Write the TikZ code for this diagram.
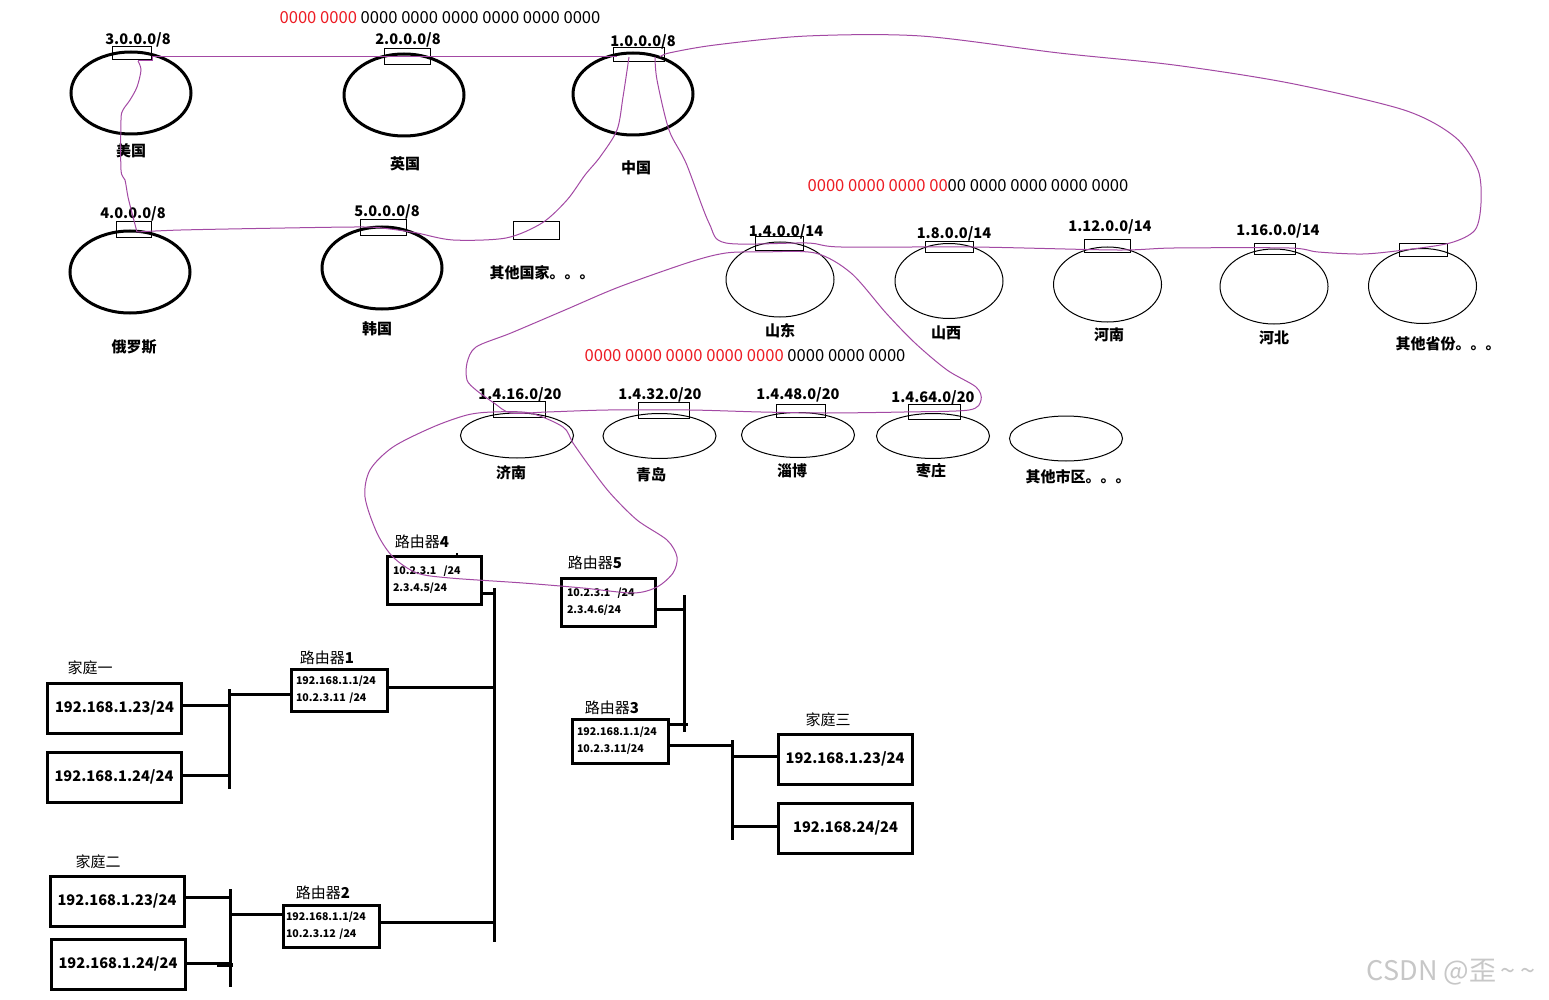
\documentclass[tikz,border=0pt]{standalone}
\usepackage{fontspec}
\setmainfont{Noto Sans CJK SC}
\usetikzlibrary{shapes.geometric}
\definecolor{pur}{RGB}{163,73,164}
\definecolor{pred}{RGB}{237,28,36}
\begin{document}
\begin{tikzpicture}[x=1pt,y=-1pt,
  bigell/.style={ellipse,draw,line width=3pt,minimum width=120pt,minimum height=82pt,inner sep=0pt},
  provell/.style={ellipse,draw,line width=1pt,minimum width=108pt,minimum height=75pt,inner sep=0pt},
  cityell/.style={ellipse,draw,line width=1pt,minimum width=113pt,minimum height=45pt,inner sep=0pt},
  addrbox/.style={rectangle,draw,line width=1pt,inner sep=0pt},
  addr/.style={font=\fontsize{14.6}{15}\selectfont\bfseries,inner sep=0pt},
  cnm/.style={font=\fontsize{15}{15}\selectfont\bfseries,inner sep=0pt},
  zeros/.style={font=\fontsize{16.6}{17}\selectfont,inner sep=0pt},
  router/.style={rectangle,draw,line width=3pt,inner sep=0pt,align=left,text width=#1,font=\fontsize{10.6}{17}\selectfont\bfseries},
  rlabel/.style={font=\fontsize{15}{15}\selectfont,inner sep=0pt},
  hostbox/.style={rectangle,draw,line width=3pt,inner sep=0pt,minimum width=134pt,minimum height=50pt,font=\fontsize{14.6}{15}\selectfont\bfseries},
  bus/.style={line width=3pt},
  pcurve/.style={pur,line width=1pt},
]
\useasboundingbox[fill=white] (0,0) rectangle (1549,1000);

% ---- top level (countries) ----
\node[zeros] (z1) at (440,18) {\textcolor{pred}{0000 0000} 0000 0000 0000 0000 0000 0000};
\node[bigell] (us) at (131,93) {};
\node[bigell] (uk) at (404,95) {};
\node[bigell] (cn) at (633,94) {};
\node[bigell] (ru) at (130,272) {};
\node[bigell] (kr) at (382,268) {};
\node[addrbox,minimum width=39pt,minimum height=13pt] (t3) at (131.5,53.5) {};
\node[addrbox,minimum width=46pt,minimum height=16pt] (t2) at (407,57) {};
\node[addrbox,minimum width=51pt,minimum height=14pt] (t1) at (638.5,55) {};
\node[addrbox,minimum width=35pt,minimum height=16pt] (t4) at (133.5,230) {};
\node[addrbox,minimum width=46pt,minimum height=16pt] (t5) at (383,228) {};
\node[addrbox,minimum width=46pt,minimum height=18pt] (tother) at (536,231) {};
\node[addr] (a3) at (138,40) {3.0.0.0/8};
\node[addr] (a2) at (408,40) {2.0.0.0/8};
\node[addr] (a1) at (643,42) {1.0.0.0/8};
\node[addr] (a4) at (133,214) {4.0.0.0/8};
\node[addr] (a5) at (387,212) {5.0.0.0/8};
\node[cnm] (nus) at (131,151) {美国};
\node[cnm] (nuk) at (405,164) {英国};
\node[cnm] (ncn) at (636,168) {中国};
\node[cnm] (nru) at (134,347) {俄罗斯};
\node[cnm] (nkr) at (377,329) {韩国};
\node[cnm] (nother) at (542,273) {其他国家。。。};

% ---- provinces ----
\node[zeros] (z2) at (968,186) {\textcolor{pred}{0000 0000 0000 00}00 0000 0000 0000 0000};
\node[provell] (sd) at (780,279.5) {};
\node[provell] (sx) at (949,281) {};
\node[provell] (hn) at (1107.5,284.5) {};
\node[provell] (hb) at (1274,286.5) {};
\node[provell] (op) at (1422.5,286) {};
\node[addrbox,minimum width=48pt,minimum height=14pt] (tsd) at (779,244) {};
\node[addrbox,minimum width=48pt,minimum height=11pt] (tsx) at (949,247.5) {};
\node[addrbox,minimum width=46pt,minimum height=13pt] (thn) at (1107,246.5) {};
\node[addrbox,minimum width=41pt,minimum height=11pt] (thb) at (1274.5,249.5) {};
\node[addrbox,minimum width=48pt,minimum height=13pt] (top) at (1423,250.5) {};
\node[addr] (asd) at (786,232) {1.4.0.0/14};
\node[addr] (asx) at (954,234) {1.8.0.0/14};
\node[addr] (ahn) at (1110,227) {1.12.0.0/14};
\node[addr] (ahb) at (1278,231) {1.16.0.0/14};
\node[cnm] (nsd) at (780,331) {山东};
\node[cnm] (nsx) at (946,333) {山西};
\node[cnm] (nhn) at (1109,335) {河南};
\node[cnm] (nhb) at (1274,338) {河北};
\node[cnm] (nop) at (1448,344) {其他省份。。。};

% ---- cities ----
\node[zeros] (z3) at (745,356) {\textcolor{pred}{0000 0000 0000 0000 0000} 0000 0000 0000};
\node[cityell] (jn) at (517,435.5) {};
\node[cityell] (qd) at (659.5,436) {};
\node[cityell] (zb) at (798,435) {};
\node[cityell] (zz) at (933,436) {};
\node[cityell] (oc) at (1066,438.5) {};
\node[addrbox,minimum width=52pt,minimum height=16pt] (tjn) at (519,409) {};
\node[addrbox,minimum width=51pt,minimum height=16pt] (tqd) at (663.5,410) {};
\node[addrbox,minimum width=49pt,minimum height=13pt] (tzb) at (800.5,410.5) {};
\node[addrbox,minimum width=52pt,minimum height=15pt] (tzz) at (934,411.5) {};
\node[addr] (ajn) at (520,395) {1.4.16.0/20};
\node[addr] (aqd) at (660,395) {1.4.32.0/20};
\node[addr] (azb) at (798,395) {1.4.48.0/20};
\node[addr] (azz) at (933,398) {1.4.64.0/20};
\node[cnm] (njn) at (511,473) {济南};
\node[cnm] (nqd) at (651,475) {青岛};
\node[cnm] (nzb) at (792,471) {淄博};
\node[cnm] (nzz) at (931,471) {枣庄};
\node[cnm] (noc) at (1078,477) {其他市区。。。};

% ---- routers ----
\node[router=82pt,minimum width=94pt,minimum height=48pt] (r4) at (434,580) {10.2.3.1\ \ /24\\2.3.4.5/24};
\node[router=82pt,minimum width=94pt,minimum height=48pt] (r5) at (608,602) {10.2.3.1\ \ /24\\2.3.4.6/24};
\node[router=86pt,minimum width=96pt,minimum height=42pt] (r1) at (339,690) {192.168.1.1/24\\10.2.3.11 /24};
\node[router=90pt,minimum width=96pt,minimum height=42pt] (r2) at (331,926) {192.168.1.1/24\\10.2.3.12 /24};
\node[router=86pt,minimum width=96pt,minimum height=44pt] (r3) at (620,741) {192.168.1.1/24\\10.2.3.11/24};
\node[rlabel] (l4) at (422,542) {路由器\textbf{4}};
\node[rlabel] (l5) at (595,563) {路由器\textbf{5}};
\node[rlabel] (l1) at (327,658) {路由器\textbf{1}};
\node[rlabel] (l2) at (323,893) {路由器\textbf{2}};
\node[rlabel] (l3) at (612,708) {路由器\textbf{3}};

% ---- hosts ----
\node[hostbox] (h1a) at (114.5,708) {192.168.1.23/24};
\node[hostbox] (h1b) at (114,777) {192.168.1.24/24};
\node[hostbox] (h2a) at (117,901) {192.168.1.23/24};
\node[hostbox] (h2b) at (118,964) {192.168.1.24/24};
\node[hostbox] (h3a) at (845,759) {192.168.1.23/24};
\node[hostbox] (h3b) at (845.5,828) {192.168.24/24};
\node[rlabel] (f1) at (90,668) {家庭一};
\node[rlabel] (f2) at (98,862) {家庭二};
\node[rlabel] (f3) at (828,720) {家庭三};

% bus coordinates
\coordinate (b4t) at (494,588); \coordinate (b4b) at (494,942);
\coordinate (b5t) at (684,595); \coordinate (b5b) at (684,732);
\coordinate (f1t) at (229,689); \coordinate (f1b) at (229,789);
\coordinate (f2t) at (230,889); \coordinate (f2b) at (230,987);
\coordinate (f3t) at (732,740); \coordinate (f3b) at (732,840);

\draw[bus] (b4t) -- (b4b);
\draw[bus] (b5t) -- (b5b);
\draw[bus] (f1t) -- (f1b);
\draw[bus] (f2t) -- (f2b);
\draw[bus] (f3t) -- (f3b);
\draw[bus] (r4.east |- 0,593) -- (b4t |- 0,593);
\draw[bus] (r5.east |- 0,609) -- (b5t |- 0,609);
\draw[bus] (r3.east |- 0,724) -- (688,724);
\draw[bus] (r1.east |- 0,687) -- (b4t |- 0,687);
\draw[bus] (r2.east |- 0,922) -- (b4t |- 0,922);
\draw[bus] (h1a.east |- 0,705) -- (f1t |- 0,705);
\draw[bus] (h1b.east |- 0,775) -- (f1t |- 0,775);
\draw[bus] (f1t |- 0,694) -- (r1.west |- 0,694);
\draw[bus] (h2a.east |- 0,897) -- (f2t |- 0,897);
\draw[bus] (h2b.east |- 0,963) -- (f2t |- 0,963);
\draw[line width=4pt] (217,965) -- (233,965);
\draw[bus] (f2t |- 0,914) -- (r2.west |- 0,914);
\draw[bus] (r3.east |- 0,745) -- (f3t |- 0,745);
\draw[bus] (f3t |- 0,756) -- (h3a.west |- 0,756);
\draw[bus] (f3t |- 0,826) -- (h3b.west |- 0,826);
\draw[line width=2.5pt] (457,553) -- (457,558);

% ---- purple freehand links ----
\draw[pcurve] (138,61) -- (152,61) -- (152,57) -- (617,57);
\draw[pcurve] plot[smooth,tension=0.5] coordinates {(138,61) (141,70) (137,87) (130,100) (123,110) (121,120) (121,170) (125,180) (128,197) (132,213) (137,232)};
\draw[pcurve] plot[smooth,tension=0.5] coordinates {(137,232) (181,230) (285,228) (364,227) (390,229) (417,233) (453,240) (506,238) (542,223) (567,200) (585,175) (600,157) (617,130) (623,97) (629,57)};
\draw[pcurve] plot[smooth,tension=0.5] coordinates {(655,57) (657,80) (669,130) (686,163) (709,223) (726,243) (807,243) (841,247) (973,247) (1117,250) (1174,248) (1289,248) (1318,252) (1363,254) (1404,250) (1450,243) (1475,230) (1481,203) (1478,170) (1455,137) (1404,110) (1289,83) (1174,65) (1059,53) (921,36) (807,36) (715,45) (669,53) (660,57)};
\draw[pcurve] plot[smooth cycle,tension=0.5] coordinates {(815,253) (851,273) (886,313) (915,343) (947,370) (976,387) (981,400) (969,410) (904,412) (826,413) (761,412) (690,410) (608,410) (547,412) (511,413) (494,403) (476,390) (467,380) (467,363) (476,347) (511,333) (565,310) (619,287) (690,262) (726,253) (761,252)};
\draw[pcurve] plot[smooth cycle,tension=0.5] coordinates {(530,413) (563,427) (573,443) (590,467) (610,493) (637,520) (667,540) (677,557) (673,573) (657,587) (633,593) (583,588) (523,583) (450,578) (417,573) (393,557) (377,533) (365,497) (370,470) (393,447) (433,427) (467,415) (493,412)};

\node[font=\fontsize{27}{27}\selectfont,text=black!22,inner sep=0pt] (wm) at (1451,972) {CSDN @歪\,\textasciitilde\,\textasciitilde};
\end{tikzpicture}
\end{document}
